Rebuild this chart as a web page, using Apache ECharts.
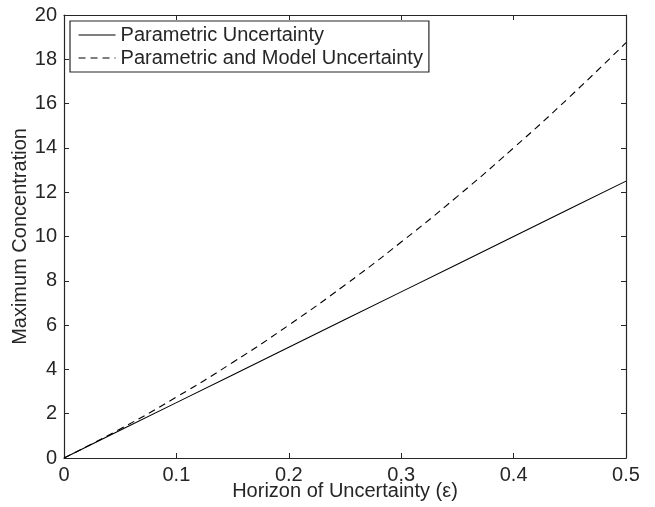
<!DOCTYPE html>
<html><head><meta charset="utf-8">
<script src="https://cdn.jsdelivr.net/npm/echarts@6/dist/echarts.min.js"></script>
<style>html,body{margin:0;padding:0;background:#fff}#c{width:655px;height:507px}</style>
</head><body><div id="c"></div>
<script>
var epsilon = [0, 0.05, 0.1, 0.15, 0.2, 0.25, 0.3, 0.35, 0.4, 0.45, 0.5];
var parametric = [0, 1.25, 2.5, 3.75, 5.0, 6.25, 7.5, 8.75, 10.0, 11.25, 12.5];
var parametricModel = [0, 1.31, 2.75, 4.31, 6.0, 7.81, 9.75, 11.81, 14.0, 16.31, 18.75];
var seriesNames = ['Parametric Uncertainty', 'Parametric and Model Uncertainty'];
var xTicks = [0, 0.1, 0.2, 0.3, 0.4, 0.5];
var yTicks = [0, 2, 4, 6, 8, 10, 12, 14, 16, 18, 20];

function pairs(xs, ys){ return xs.map(function(x,i){ return [x, ys[i]]; }); }
var font = 'Liberation Sans, Arial, sans-serif';
var txt = '#262626';
var chart = echarts.init(document.getElementById('c'), null, {renderer:'canvas'});
var axisCommon = {
  axisLine:{show:true, onZero:false, lineStyle:{color:txt, width:1.2}},
  axisTick:{show:true, inside:true, length:5, lineStyle:{color:txt}},
  splitLine:{show:false}
};
chart.setOption({
  animation:false,
  backgroundColor:'#fff',
  grid:{left:64, right:29, top:15, bottom:49, containLabel:false, outerBoundsMode:'none'},
  xAxis:[
    Object.assign({type:'value', min:0, max:0.5, interval:0.1, position:'bottom',
      name:'Horizon of Uncertainty (ε)', nameLocation:'middle', nameGap:23, nameMoveOverlap:false,
      nameTextStyle:{fontFamily:font, fontSize:20, color:txt},
      axisLabel:{fontFamily:font, fontSize:20, color:txt, margin:7,
        formatter:function(v){ return v===0?'0':String(v); }}}, axisCommon),
    Object.assign({type:'value', min:0, max:0.5, interval:0.1, position:'top', axisLabel:{show:false}}, axisCommon)
  ],
  yAxis:[
    Object.assign({type:'value', min:0, max:20, interval:2, position:'left',
      name:'Maximum Concentration', nameLocation:'middle', nameGap:34, nameMoveOverlap:false,
      nameTextStyle:{fontFamily:font, fontSize:20, color:txt},
      axisLabel:{fontFamily:font, fontSize:20, color:txt, margin:7}}, axisCommon),
    Object.assign({type:'value', min:0, max:20, interval:2, position:'right', axisLabel:{show:false}}, axisCommon)
  ],
  legend:{
    orient:'vertical', left:70, top:21,
    backgroundColor:'#fff', borderColor:txt, borderWidth:1.2,
    padding:[4, 6, 4, 8], itemGap:3, itemWidth:37, itemHeight:20,
    itemStyle:{opacity:0},
    lineStyle:{width:1.1},
    textStyle:{fontFamily:font, fontSize:20, color:txt},
    data:seriesNames
  },
  series:[
    {name:seriesNames[0], type:'line', showSymbol:false, symbol:'none', data:pairs(epsilon, parametric),
     lineStyle:{color:'#000', width:1.1, type:'solid'}, itemStyle:{color:'#000'}},
    {name:seriesNames[1], type:'line', showSymbol:false, symbol:'none', smooth:true, data:pairs(epsilon, parametricModel),
     lineStyle:{color:'#000', width:1.1, type:[7,5]}, itemStyle:{color:'#000'}}
  ]
});
</script></body></html>
